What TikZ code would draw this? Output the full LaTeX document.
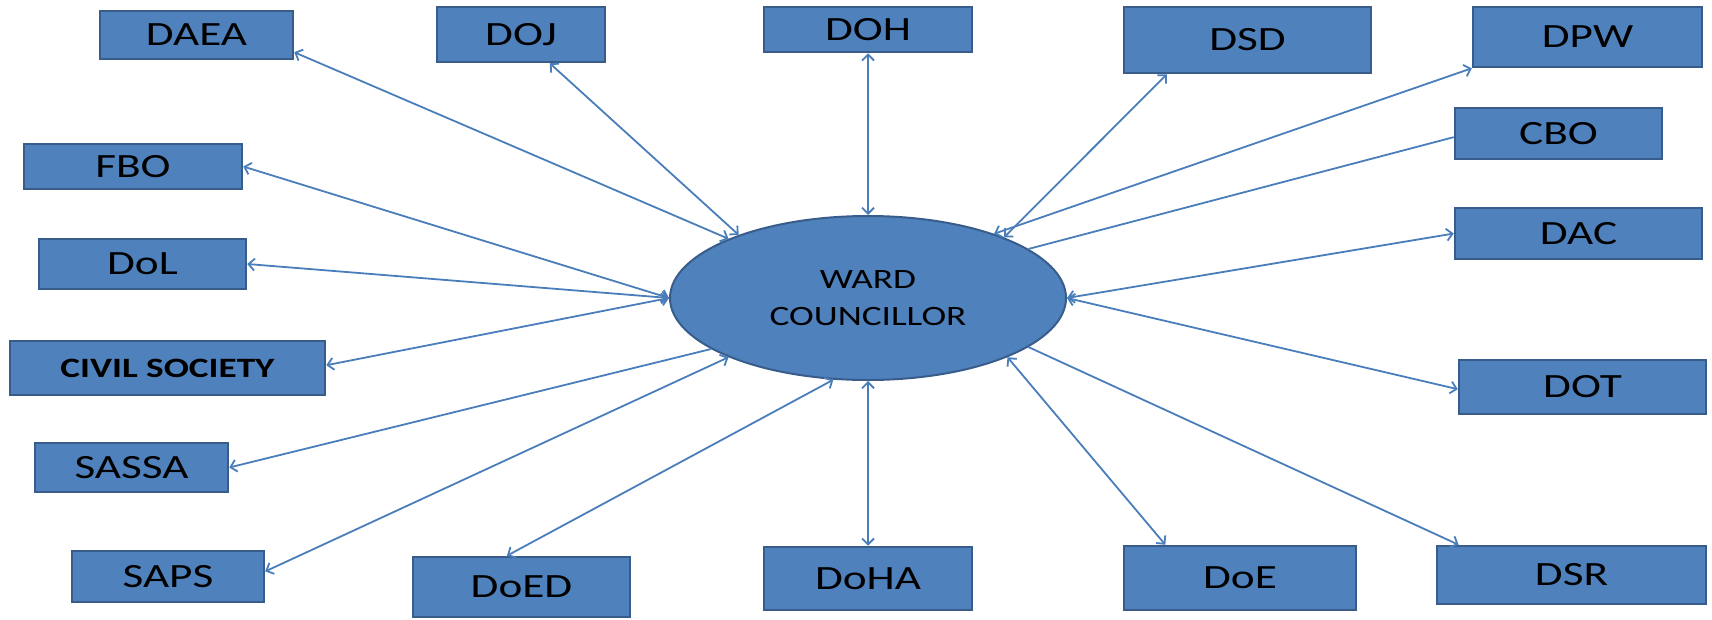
\documentclass[tikz,border=0pt]{standalone}
\usepackage{fontspec}
\usetikzlibrary{arrows.meta}
\usetikzlibrary{shapes.geometric}
\newfontfamily\boxfont[FakeStretch=1.33]{Carlito}
\definecolor{boxblue}{RGB}{79,129,189}
\definecolor{boxedge}{RGB}{56,93,138}
\definecolor{linkblue}{RGB}{74,126,187}

\begin{document}
\begin{tikzpicture}
    [x=1pt,y=-1pt,
     office/.style={rectangle,draw=boxedge,fill=boxblue,line width=2.5pt,inner sep=0pt,
                    font=\boxfont\fontsize{34}{38}\selectfont},
     link/.style={draw=linkblue,line width=1.8pt,>={Straight Barb[length=6pt,width=12pt]}}]

    \useasboundingbox (0,0) rectangle (1712,619);

\node[ellipse,draw=boxedge,fill=boxblue,line width=2pt,inner sep=0pt,minimum width=396pt,minimum height=164pt,
      align=center,font=\boxfont\fontsize{28}{37}\selectfont] (wc) at (868,298) {WARD\\COUNCILLOR};

\node[office,minimum width=193pt,minimum height=48pt] (daea) at (196.5,35) {DAEA};
\node[office,minimum width=168pt,minimum height=55pt] (doj) at (521,34.5) {DOJ};
\node[office,minimum width=208pt,minimum height=45pt] (doh) at (868,29.5) {DOH};
\node[office,minimum width=247pt,minimum height=66pt] (dsd) at (1247.5,40) {DSD};
\node[office,minimum width=229pt,minimum height=60pt] (dpw) at (1587.5,37) {DPW};
\node[office,minimum width=218pt,minimum height=45pt] (fbo) at (133,166.5) {FBO};
\node[office,minimum width=207pt,minimum height=51pt] (cbo) at (1558.5,133.5) {CBO};
\node[office,minimum width=207pt,minimum height=50pt] (dol) at (142.5,264) {DoL};
\node[office,minimum width=247pt,minimum height=51pt] (dac) at (1578.5,233.5) {DAC};
\node[office,minimum width=315pt,minimum height=54pt,font=\boxfont\bfseries\fontsize{28}{32}\selectfont] (cs) at (167.5,368) {CIVIL SOCIETY};
\node[office,minimum width=247pt,minimum height=54pt] (dot) at (1582.5,387) {DOT};
\node[office,minimum width=193pt,minimum height=49pt] (sassa) at (131.5,467.5) {SASSA};
\node[office,minimum width=192pt,minimum height=51pt] (saps) at (168,576.5) {SAPS};
\node[office,minimum width=217pt,minimum height=60pt] (doed) at (521.5,587) {DoED};
\node[office,minimum width=208pt,minimum height=63pt] (doha) at (868,578.5) {DoHA};
\node[office,minimum width=232pt,minimum height=64pt] (doe) at (1240,578) {DoE};
\node[office,minimum width=269pt,minimum height=58pt] (dsr) at (1571.5,575) {DSR};

\draw[link,<->] (wc.157) -- (daea.-10);
\draw[link,<->] (wc.154) -- (doj.-45);
\draw[link,<->] (wc.north) -- (doh.south);
\draw[link,<->] (wc.24) -- (dsd.-157);
\draw[link,<->] (wc.27) -- (dpw.south west);
\draw[link] (wc.17) -- (cbo.182);
\draw[link,<->] (wc.east) -- (dac.west);
\draw[link,<->] (wc.east) -- (dot.181);
\draw[link,->] (wc.-17) -- (dsr.165);
\draw[link,<->] (wc.-23) -- (doe.156);
\draw[link,<->] (wc.south) -- (doha.north);
\draw[link,<->] (wc.-113) -- (doed.115);
\draw[link,<->] (wc.203) -- (saps.3);
\draw[link,->] (wc.198) -- (sassa.east);
\draw[link,<->] (wc.west) -- (cs.1);
\draw[link,<->] (wc.west) -- (dol.east);
\draw[link,<->] (wc.west) -- (fbo.east);

  \end{tikzpicture}
\end{document}
